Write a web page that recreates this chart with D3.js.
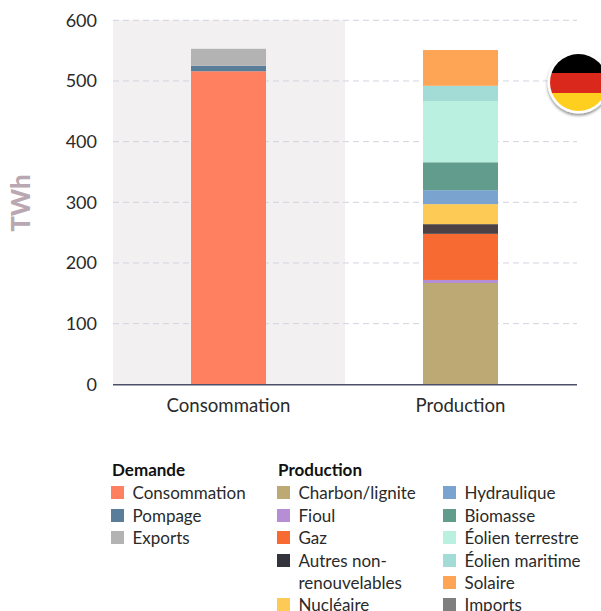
<!DOCTYPE html>
<html lang="fr">
<head>
<meta charset="utf-8">
<script src="https://cdn.jsdelivr.net/npm/d3@7"></script>
<style>
html,body{margin:0;padding:0;background:#fff}
svg{display:block}
text{font-family:Lato,sans-serif;fill:#2a2a2a;}
</style>
</head>
<body>
<svg id="chart" width="601" height="611"></svg>
<script>
// Energy balance, in TWh
const categories = ["Consommation", "Production"];
const yTicks = [0, 100, 200, 300, 400, 500, 600];

const demandNames = ["Consommation", "Pompage", "Exports"];
const demandValues = [516, 9, 28];
const demandColors = ["#ff7f61", "#5a7d9a", "#b3b3b3"];

const productionNames = ["Charbon/lignite", "Fioul", "Gaz", "Autres non-renouvelables", "Nucléaire",
  "Hydraulique", "Biomasse", "Éolien terrestre", "Éolien maritime", "Solaire", "Imports"];
const productionValues = [167, 5, 76, 16, 33, 23, 46, 101, 25, 59, 0];
const productionColors = ["#bca973", "#b68ed6", "#f76b32", "#4c4246", "#fdcb55",
  "#7aa3d0", "#629c8c", "#b9f0e0", "#a3dbd6", "#fea455", "#7f7f7f"];
// Autres non-renouvelables has a darker key than its bar segment
const legendOverrides = {"Autres non-renouvelables": "#32333b"};

const svg = d3.select("#chart");
const x = d3.scaleBand().domain(categories).range([113, 577]);
const barWidth = 75;
const y = d3.scaleLinear().domain([0, 600]).range([384.3, 20.3]);

// Shaded panel behind the demand column
svg.append("rect")
  .attr("x", x("Consommation")).attr("y", y(600))
  .attr("width", x.bandwidth()).attr("height", y(0) - y(600))
  .attr("fill", "#f2f0f1");

// Horizontal grid
svg.append("g").selectAll("line")
  .data(yTicks.filter(d => d > 0))
  .join("line")
  .attr("x1", x.range()[0]).attr("x2", x.range()[1])
  .attr("y1", d => y(d)).attr("y2", d => y(d))
  .attr("stroke", "#d3d3de").attr("stroke-width", 1).attr("stroke-dasharray", "6 4");

// Stacked columns
function stack(category, values, colors) {
  let acc = 0;
  const segs = values.map((v, i) => { const s = {y0: acc, y1: acc + v, color: colors[i]}; acc += v; return s; });
  svg.append("g").selectAll("rect").data(segs).join("rect")
    .attr("x", x(category) + Math.floor((x.bandwidth() - barWidth) / 2))
    .attr("width", barWidth)
    .attr("y", d => y(d.y1))
    .attr("height", d => y(d.y0) - y(d.y1))
    .attr("fill", d => d.color);
}
stack("Consommation", demandValues, demandColors);
stack("Production", productionValues, productionColors);

// Axes
const yAxis = svg.append("g").attr("transform", "translate(113,0)")
  .call(d3.axisLeft(y).tickValues(yTicks).tickSize(0).tickPadding(16));
yAxis.select(".domain").remove();
yAxis.selectAll("text").attr("font-size", 18).style("font-family", "Lato,sans-serif");

const xAxis = svg.append("g").attr("transform", "translate(-0.5,384.3)")
  .call(d3.axisBottom(x).tickSize(0).tickPadding(14));
xAxis.select(".domain").attr("stroke", "#4b5068").attr("stroke-width", 1.4);
xAxis.selectAll("text").attr("font-size", 18.6).style("font-family", "Lato,sans-serif");

svg.append("text")
  .attr("transform", "translate(29.5,203) rotate(-90)")
  .attr("text-anchor", "middle")
  .attr("font-size", 26).attr("font-weight", 900)
  .style("fill", "#b9a8b2")
  .text("TWh");

// Legend
const legend = svg.append("g");
function heading(px, py, label) {
  legend.append("text").attr("x", px).attr("y", py)
    .attr("font-size", 17).attr("font-weight", 700).style("fill", "#111").text(label);
}
function entry(px, py, name, color, lines) {
  legend.append("rect").attr("x", px).attr("y", py).attr("width", 13).attr("height", 13).attr("fill", color);
  lines.forEach((t, i) => legend.append("text")
    .attr("x", px + 21.5).attr("y", py + 12.5 + i * 22.2)
    .attr("font-size", 17).text(t));
}
heading(112, 475.5, "Demande");
heading(278, 475.5, "Production");
const rowY = [486, 509, 531, 554, 576, 598];
demandNames.forEach((n, i) => entry(111, rowY[i], n, demandColors[i], [n]));

const col2 = [[0, 0], [1, 1], [2, 2], [3, 3], [4, 5]];
col2.forEach(([k, r]) => {
  const n = productionNames[k];
  const lines = n === "Autres non-renouvelables" ? ["Autres non-", "renouvelables"] : [n];
  entry(277, rowY[r], n, legendOverrides[n] || productionColors[k], lines);
});
productionNames.slice(5).forEach((n, i) => entry(443, rowY[i], n, productionColors[5 + i], [n]));

// German flag badge
const defs = svg.append("defs");
const shadow = defs.append("filter").attr("id", "badgeShadow")
  .attr("x", "-30%").attr("y", "-30%").attr("width", "160%").attr("height", "160%");
shadow.append("feDropShadow").attr("dx", 0).attr("dy", 2).attr("stdDeviation", 1.5)
  .attr("flood-color", "#000").attr("flood-opacity", 0.45);
defs.append("clipPath").attr("id", "badgeClip")
  .append("circle").attr("cx", 578.5).attr("cy", 82.5).attr("r", 28.5);
svg.append("circle").attr("cx", 578.5).attr("cy", 82.5).attr("r", 31)
  .attr("fill", "#fff").attr("filter", "url(#badgeShadow)");
const flag = svg.append("g").attr("clip-path", "url(#badgeClip)");
[["#000000", 54, 19], ["#da291c", 73, 20], ["#ffcf20", 93, 18]].forEach(([c, top, h]) =>
  flag.append("rect").attr("x", 545).attr("y", top).attr("width", 60).attr("height", h).attr("fill", c));
</script>
</body>
</html>
